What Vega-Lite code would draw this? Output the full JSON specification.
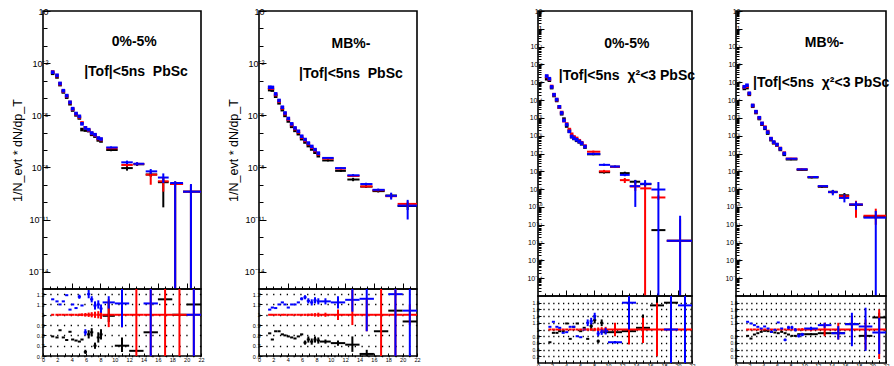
{
"$schema": "https://vega.github.io/schema/vega-lite/v6.json",
"padding": {"left": 10, "top": 6, "right": 0, "bottom": 0},
"background": "white",
"config": {
  "view": {"stroke": "black", "strokeWidth": 1.6},
  "axis": {"labelFont": "Liberation Sans", "titleFont": "Liberation Sans", "labelColor": "black", "titleColor": "black", "tickColor": "black", "domain": false, "grid": false, "labelOverlap": false, "labelFlush": false, "titleFontWeight": "normal", "tickWidth": 1}
},
"datasets": {"d": [
{"p":1,"t":"L","x":12.7,"y":0.16,"txt":"0%-5%"},
{"p":1,"t":"L","x":12.95,"y":3.2e-3,"txt":"|Tof|<5ns \u00a0PbSc"},
{"p":2,"t":"L","x":12.8,"y":0.13,"txt":"MB%-"},
{"p":2,"t":"L","x":12.8,"y":2.4e-3,"txt":"|Tof|<5ns \u00a0PbSc"},
{"p":3,"t":"L","x":12.7,"y":0.14,"txt":"0%-5%"},
{"p":3,"t":"L","x":12.7,"y":2.2e-3,"txt":"|Tof|<5ns \u00a0χ²<3 PbSc"},
{"p":4,"t":"L","x":12.95,"y":0.17,"txt":"MB%-"},
{"p":4,"t":"L","x":12.5,"y":9.5e-4,"txt":"|Tof|<5ns \u00a0χ²<3 PbSc"},

{"p":1,"t":"T","s":"k","x":1.35,"y":2.6e-3},{"p":1,"t":"T","s":"k","x":1.95,"y":1.6e-3},{"p":1,"t":"T","s":"k","x":2.37,"y":5.8e-4},{"p":1,"t":"T","s":"k","x":2.83,"y":2.2e-4},{"p":1,"t":"T","s":"k","x":3.3,"y":1.1e-4},{"p":1,"t":"T","s":"k","x":3.76,"y":4.6e-5},{"p":1,"t":"T","s":"k","x":4.13,"y":2.0e-5},{"p":1,"t":"T","s":"k","x":4.6,"y":1.05e-5},{"p":1,"t":"T","s":"k","x":5.06,"y":7.0e-6},{"p":1,"t":"T","s":"k","x":5.43,"y":1.5e-6},{"p":1,"t":"T","s":"k","x":5.9,"y":1.4e-6},{"p":1,"t":"T","s":"k","x":6.36,"y":1.3e-6},{"p":1,"t":"T","s":"k","x":6.78,"y":8.0e-7},{"p":1,"t":"T","s":"k","x":7.24,"y":6.3e-7},{"p":1,"t":"T","s":"k","x":7.7,"y":3.8e-7},{"p":1,"t":"T","s":"k","x":8.08,"y":3.3e-7},
{"p":1,"t":"T","s":"k","x":9.47,"xl":8.8,"xh":10.4,"y":1.0e-7,"yl":8.5e-8,"yh":1.15e-7},
{"p":1,"t":"T","s":"k","x":11.7,"xl":10.9,"xh":12.5,"y":9.1e-9,"yl":6.5e-9,"yh":1.25e-8},
{"p":1,"t":"T","s":"k","x":13.1,"xl":12.6,"xh":14.1,"y":1.5e-8,"yl":1.2e-8,"yh":1.8e-8},
{"p":1,"t":"T","s":"k","x":15.0,"xl":14.3,"xh":15.9,"y":3.9e-9,"yl":2.8e-9,"yh":5.2e-9},
{"p":1,"t":"T","s":"k","x":16.75,"xl":16.0,"xh":17.5,"y":1.4e-9,"yl":5e-11,"yh":2.5e-9},
{"p":1,"t":"T","s":"k","x":18.4,"xl":17.7,"xh":19.5,"y":1.1e-9,"yl":1e-15,"yh":1.5e-9},
{"p":1,"t":"T","s":"k","x":20.6,"xl":19.5,"xh":22,"y":4.0e-10,"yl":1e-15,"yh":1.0e-9},
{"p":1,"t":"T","s":"r","x":1.35,"y":3.1e-3},{"p":1,"t":"T","s":"r","x":1.95,"y":1.9e-3},{"p":1,"t":"T","s":"r","x":2.37,"y":6.5e-4},{"p":1,"t":"T","s":"r","x":2.83,"y":2.5e-4},{"p":1,"t":"T","s":"r","x":3.3,"y":1.3e-4},{"p":1,"t":"T","s":"r","x":3.76,"y":5.4e-5},{"p":1,"t":"T","s":"r","x":4.13,"y":2.3e-5},{"p":1,"t":"T","s":"r","x":4.6,"y":1.2e-5},{"p":1,"t":"T","s":"r","x":5.06,"y":8.0e-6},{"p":1,"t":"T","s":"r","x":5.43,"y":3.6e-6},{"p":1,"t":"T","s":"r","x":5.9,"y":1.9e-6},{"p":1,"t":"T","s":"r","x":6.36,"y":1.4e-6},{"p":1,"t":"T","s":"r","x":6.78,"y":9.0e-7},{"p":1,"t":"T","s":"r","x":7.24,"y":7.2e-7},{"p":1,"t":"T","s":"r","x":7.7,"y":4.6e-7},{"p":1,"t":"T","s":"r","x":8.08,"y":4.0e-7},
{"p":1,"t":"T","s":"r","x":9.47,"xl":8.8,"xh":10.4,"y":1.26e-7,"yl":1.1e-7,"yh":1.45e-7},
{"p":1,"t":"T","s":"r","x":11.7,"xl":10.9,"xh":12.5,"y":1.38e-8,"yl":1.1e-8,"yh":1.75e-8},
{"p":1,"t":"T","s":"r","x":13.1,"xl":12.6,"xh":14.1,"y":1.58e-8,"yl":1.3e-8,"yh":1.9e-8},
{"p":1,"t":"T","s":"r","x":15.0,"xl":14.3,"xh":15.9,"y":3.8e-9,"yl":1.0e-9,"yh":5.5e-9},
{"p":1,"t":"T","s":"r","x":16.75,"xl":16.0,"xh":17.5,"y":1.58e-9,"yl":4.0e-10,"yh":2.5e-9},
{"p":1,"t":"T","s":"r","x":18.4,"xl":17.7,"xh":19.5,"y":1.1e-9,"yl":1e-15,"yh":1.5e-9},
{"p":1,"t":"T","s":"r","x":20.6,"xl":19.5,"xh":22,"y":4.0e-10,"yl":1e-15,"yh":1.0e-9},
{"p":1,"t":"T","s":"b","x":1.35,"y":3.0e-3},{"p":1,"t":"T","s":"b","x":1.95,"y":2.0e-3},{"p":1,"t":"T","s":"b","x":2.37,"y":6.8e-4},{"p":1,"t":"T","s":"b","x":2.83,"y":2.6e-4},{"p":1,"t":"T","s":"b","x":3.3,"y":1.35e-4},{"p":1,"t":"T","s":"b","x":3.76,"y":5.6e-5},{"p":1,"t":"T","s":"b","x":4.13,"y":2.4e-5},{"p":1,"t":"T","s":"b","x":4.6,"y":1.26e-5},{"p":1,"t":"T","s":"b","x":5.06,"y":8.7e-6},{"p":1,"t":"T","s":"b","x":5.43,"y":3.2e-6},{"p":1,"t":"T","s":"b","x":5.9,"y":1.86e-6},{"p":1,"t":"T","s":"b","x":6.36,"y":1.48e-6},{"p":1,"t":"T","s":"b","x":6.78,"y":9.5e-7},{"p":1,"t":"T","s":"b","x":7.24,"y":7.6e-7},{"p":1,"t":"T","s":"b","x":7.7,"y":4.9e-7},{"p":1,"t":"T","s":"b","x":8.08,"y":4.3e-7},
{"p":1,"t":"T","s":"b","x":9.47,"xl":8.8,"xh":10.4,"y":1.4e-7,"yl":1.2e-7,"yh":1.6e-7},
{"p":1,"t":"T","s":"b","x":11.7,"xl":10.9,"xh":12.5,"y":1.95e-8,"yl":1.55e-8,"yh":2.45e-8},
{"p":1,"t":"T","s":"b","x":13.1,"xl":12.6,"xh":14.1,"y":1.62e-8,"yl":1.3e-8,"yh":2.0e-8},
{"p":1,"t":"T","s":"b","x":15.0,"xl":14.3,"xh":15.9,"y":5.9e-9,"yl":4.2e-9,"yh":8.0e-9},
{"p":1,"t":"T","s":"b","x":16.75,"xl":16.0,"xh":17.5,"y":2.6e-9,"yl":1.26e-9,"yh":4.5e-9},
{"p":1,"t":"T","s":"b","x":18.4,"xl":17.7,"xh":19.5,"y":1.26e-9,"yl":1e-15,"yh":1.6e-9},
{"p":1,"t":"T","s":"b","x":20.6,"xl":19.5,"xh":22,"y":4.0e-10,"yl":1e-15,"yh":1.1e-9},

{"p":1,"t":"R","s":"k","x":1.35,"xl":1.13,"xh":1.57,"y":0.79},{"p":1,"t":"R","s":"k","x":1.95,"xl":1.73,"xh":2.17,"y":0.78},{"p":1,"t":"R","s":"k","x":2.37,"xl":2.15,"xh":2.59,"y":0.85},{"p":1,"t":"R","s":"k","x":2.83,"xl":2.61,"xh":3.05,"y":0.78},{"p":1,"t":"R","s":"k","x":3.3,"xl":3.08,"xh":3.52,"y":0.755},{"p":1,"t":"R","s":"k","x":3.76,"xl":3.54,"xh":3.98,"y":0.835},{"p":1,"t":"R","s":"k","x":4.13,"xl":3.91,"xh":4.35,"y":0.76},{"p":1,"t":"R","s":"k","x":4.6,"xl":4.38,"xh":4.82,"y":0.75},{"p":1,"t":"R","s":"k","x":5.06,"xl":4.84,"xh":5.28,"y":0.74},{"p":1,"t":"R","s":"k","x":5.43,"xl":5.21,"xh":5.65,"y":0.76},
{"p":1,"t":"R","s":"k","x":5.9,"xl":5.68,"xh":6.12,"y":0.64,"yl":0.62,"yh":0.66},{"p":1,"t":"R","s":"k","x":6.36,"xl":6.14,"xh":6.58,"y":0.81,"yl":0.77,"yh":0.85},{"p":1,"t":"R","s":"k","x":6.78,"xl":6.56,"xh":7.0,"y":0.83,"yl":0.79,"yh":0.87},{"p":1,"t":"R","s":"k","x":7.24,"xl":7.02,"xh":7.46,"y":0.70,"yl":0.67,"yh":0.73},{"p":1,"t":"R","s":"k","x":7.7,"xl":7.48,"xh":7.92,"y":0.78,"yl":0.73,"yh":0.83},{"p":1,"t":"R","s":"k","x":8.08,"xl":7.86,"xh":8.3,"y":0.81,"yl":0.76,"yh":0.86},
{"p":1,"t":"R","s":"k","x":9.15,"xl":8.3,"xh":10,"y":0.99,"yl":0.93,"yh":1.12},{"p":1,"t":"R","s":"k","x":11,"xl":10,"xh":12,"y":0.70,"yl":0.64,"yh":0.78},{"p":1,"t":"R","s":"k","x":13,"xl":12,"xh":14,"y":0.65},{"p":1,"t":"R","s":"k","x":15,"xl":14,"xh":16,"y":0.83},{"p":1,"t":"R","s":"k","x":17,"xl":16,"xh":18,"y":1.15},{"p":1,"t":"R","s":"k","x":19,"xl":18,"xh":20,"y":1.0},{"p":1,"t":"R","s":"k","x":21,"xl":20,"xh":22,"y":1.1},
{"p":1,"t":"R","s":"r","x":1.35,"xl":1.13,"xh":1.57,"y":1},{"p":1,"t":"R","s":"r","x":1.95,"xl":1.73,"xh":2.17,"y":1},{"p":1,"t":"R","s":"r","x":2.37,"xl":2.15,"xh":2.59,"y":1},{"p":1,"t":"R","s":"r","x":2.83,"xl":2.61,"xh":3.05,"y":1},{"p":1,"t":"R","s":"r","x":3.3,"xl":3.08,"xh":3.52,"y":1},{"p":1,"t":"R","s":"r","x":3.76,"xl":3.54,"xh":3.98,"y":1},
{"p":1,"t":"R","s":"r","x":4.13,"xl":3.91,"xh":4.35,"y":1,"yl":0.996,"yh":1.004},{"p":1,"t":"R","s":"r","x":4.6,"xl":4.38,"xh":4.82,"y":1,"yl":0.993,"yh":1.007},{"p":1,"t":"R","s":"r","x":5.06,"xl":4.84,"xh":5.28,"y":1,"yl":0.99,"yh":1.01},{"p":1,"t":"R","s":"r","x":5.43,"xl":5.21,"xh":5.65,"y":1,"yl":0.987,"yh":1.013},{"p":1,"t":"R","s":"r","x":5.9,"xl":5.68,"xh":6.12,"y":1,"yl":0.983,"yh":1.017},{"p":1,"t":"R","s":"r","x":6.36,"xl":6.14,"xh":6.58,"y":1,"yl":0.979,"yh":1.021},{"p":1,"t":"R","s":"r","x":6.78,"xl":6.56,"xh":7.0,"y":1,"yl":0.975,"yh":1.025},{"p":1,"t":"R","s":"r","x":7.24,"xl":7.02,"xh":7.46,"y":1,"yl":0.97,"yh":1.03},{"p":1,"t":"R","s":"r","x":7.7,"xl":7.48,"xh":7.92,"y":1,"yl":0.965,"yh":1.035},{"p":1,"t":"R","s":"r","x":8.08,"xl":7.86,"xh":8.3,"y":1,"yl":0.96,"yh":1.04},
{"p":1,"t":"R","s":"r","x":9.15,"xl":8.3,"xh":10,"y":1,"yl":0.88,"yh":1.15},{"p":1,"t":"R","s":"r","x":11,"xl":10,"xh":12,"y":1,"yl":0.88,"yh":1.12},{"p":1,"t":"R","s":"r","x":13,"xl":12,"xh":14,"y":1,"yl":0.5,"yh":1.3},{"p":1,"t":"R","s":"r","x":15,"xl":14,"xh":16,"y":1,"yl":0.5,"yh":1.3},{"p":1,"t":"R","s":"r","x":17,"xl":16,"xh":18,"y":1,"yl":0.5,"yh":1.3},{"p":1,"t":"R","s":"r","x":19,"xl":18,"xh":20,"y":1,"yl":0.5,"yh":1.3},{"p":1,"t":"R","s":"r","x":21,"xl":20,"xh":22,"y":1,"yl":0.5,"yh":1.3},
{"p":1,"t":"R","s":"b","x":1.35,"xl":1.13,"xh":1.57,"y":1.15},{"p":1,"t":"R","s":"b","x":1.95,"xl":1.73,"xh":2.17,"y":1.13},{"p":1,"t":"R","s":"b","x":2.37,"xl":2.15,"xh":2.59,"y":1.10},{"p":1,"t":"R","s":"b","x":2.83,"xl":2.61,"xh":3.05,"y":1.13},{"p":1,"t":"R","s":"b","x":3.3,"xl":3.08,"xh":3.52,"y":1.19},{"p":1,"t":"R","s":"b","x":3.76,"xl":3.54,"xh":3.98,"y":1.05},{"p":1,"t":"R","s":"b","x":4.13,"xl":3.91,"xh":4.35,"y":1.10},{"p":1,"t":"R","s":"b","x":4.6,"xl":4.38,"xh":4.82,"y":1.065},
{"p":1,"t":"R","s":"b","x":5.06,"xl":4.84,"xh":5.28,"y":1.175,"yl":1.155,"yh":1.195},{"p":1,"t":"R","s":"b","x":5.43,"xl":5.21,"xh":5.65,"y":1.09},{"p":1,"t":"R","s":"b","x":5.9,"xl":5.68,"xh":6.12,"y":0.83,"yl":0.8,"yh":0.86},{"p":1,"t":"R","s":"b","x":6.36,"xl":6.14,"xh":6.58,"y":1.2,"yl":1.16,"yh":1.24},{"p":1,"t":"R","s":"b","x":6.78,"xl":6.56,"xh":7.0,"y":1.15,"yl":1.12,"yh":1.18},{"p":1,"t":"R","s":"b","x":7.24,"xl":7.02,"xh":7.46,"y":1.09,"yl":1.05,"yh":1.13},{"p":1,"t":"R","s":"b","x":7.7,"xl":7.48,"xh":7.92,"y":1.1,"yl":1.06,"yh":1.14},{"p":1,"t":"R","s":"b","x":8.08,"xl":7.86,"xh":8.3,"y":1.06,"yl":1.02,"yh":1.1},
{"p":1,"t":"R","s":"b","x":9.15,"xl":8.3,"xh":10,"y":1.12,"yl":1.06,"yh":1.18},{"p":1,"t":"R","s":"b","x":11,"xl":10,"xh":12,"y":1.11,"yl":0.88,"yh":1.3},{"p":1,"t":"R","s":"b","x":15,"xl":14,"xh":16,"y":1.11,"yl":0.6,"yh":1.3},{"p":1,"t":"R","s":"b","x":21,"xl":20,"xh":22,"y":1.0,"yl":0.5,"yh":1.3},

{"p":2,"t":"T","s":"k","x":1.49,"y":3.0e-4},{"p":2,"t":"T","s":"k","x":1.86,"y":2.8e-4},{"p":2,"t":"T","s":"k","x":2.32,"y":1.25e-4},{"p":2,"t":"T","s":"k","x":2.79,"y":5.2e-5},{"p":2,"t":"T","s":"k","x":3.25,"y":2.1e-5},{"p":2,"t":"T","s":"k","x":3.62,"y":9.8e-6},{"p":2,"t":"T","s":"k","x":4.08,"y":4.7e-6},{"p":2,"t":"T","s":"k","x":4.55,"y":2.3e-6},{"p":2,"t":"T","s":"k","x":5.01,"y":1.35e-6},{"p":2,"t":"T","s":"k","x":5.48,"y":8.7e-7},{"p":2,"t":"T","s":"k","x":5.94,"y":4.5e-7},{"p":2,"t":"T","s":"k","x":6.41,"y":2.9e-7},{"p":2,"t":"T","s":"k","x":6.87,"y":1.8e-7},{"p":2,"t":"T","s":"k","x":7.34,"y":1.15e-7},{"p":2,"t":"T","s":"k","x":7.8,"y":7.5e-8},{"p":2,"t":"T","s":"k","x":8.26,"y":4.7e-8},
{"p":2,"t":"T","s":"k","x":9.6,"xl":8.8,"xh":10.4,"y":2.5e-8,"yl":2.2e-8,"yh":2.8e-8},
{"p":2,"t":"T","s":"k","x":11.4,"xl":10.6,"xh":12.1,"y":6.3e-9,"yl":5.5e-9,"yh":7.2e-9},
{"p":2,"t":"T","s":"k","x":13.1,"xl":12.3,"xh":14.0,"y":2.0e-9,"yl":1.6e-9,"yh":2.5e-9},
{"p":2,"t":"T","s":"k","x":14.9,"xl":14.1,"xh":15.8,"y":7.8e-10,"yl":6.5e-10,"yh":9.2e-10},
{"p":2,"t":"T","s":"k","x":16.6,"xl":15.8,"xh":17.5,"y":4.3e-10,"yl":3.6e-10,"yh":5.1e-10},
{"p":2,"t":"T","s":"k","x":18.4,"xl":17.6,"xh":19.2,"y":2.4e-10,"yl":1.8e-10,"yh":3.1e-10},
{"p":2,"t":"T","s":"k","x":20.7,"xl":19.3,"xh":22,"y":6.0e-11,"yl":3.5e-11,"yh":9.0e-11},
{"p":2,"t":"T","s":"r","x":1.49,"y":3.75e-4},{"p":2,"t":"T","s":"r","x":1.86,"y":3.6e-4},{"p":2,"t":"T","s":"r","x":2.32,"y":1.55e-4},{"p":2,"t":"T","s":"r","x":2.79,"y":6.5e-5},{"p":2,"t":"T","s":"r","x":3.25,"y":2.65e-5},{"p":2,"t":"T","s":"r","x":3.62,"y":1.23e-5},{"p":2,"t":"T","s":"r","x":4.08,"y":5.9e-6},{"p":2,"t":"T","s":"r","x":4.55,"y":2.9e-6},{"p":2,"t":"T","s":"r","x":5.01,"y":1.7e-6},{"p":2,"t":"T","s":"r","x":5.48,"y":1.1e-6},{"p":2,"t":"T","s":"r","x":5.94,"y":5.6e-7},{"p":2,"t":"T","s":"r","x":6.41,"y":3.6e-7},{"p":2,"t":"T","s":"r","x":6.87,"y":2.3e-7},{"p":2,"t":"T","s":"r","x":7.34,"y":1.45e-7},{"p":2,"t":"T","s":"r","x":7.8,"y":9.5e-8},{"p":2,"t":"T","s":"r","x":8.26,"y":6.0e-8},
{"p":2,"t":"T","s":"r","x":9.6,"xl":8.8,"xh":10.4,"y":3.2e-8,"yl":2.9e-8,"yh":3.5e-8},
{"p":2,"t":"T","s":"r","x":11.4,"xl":10.6,"xh":12.1,"y":8.5e-9,"yl":7.6e-9,"yh":9.5e-9},
{"p":2,"t":"T","s":"r","x":13.1,"xl":12.3,"xh":14.0,"y":3.2e-9,"yl":2.8e-9,"yh":3.7e-9},
{"p":2,"t":"T","s":"r","x":14.9,"xl":14.1,"xh":15.8,"y":8.0e-10,"yl":6.8e-10,"yh":9.4e-10},
{"p":2,"t":"T","s":"r","x":16.6,"xl":15.8,"xh":17.5,"y":4.8e-10,"yl":4.1e-10,"yh":5.6e-10},
{"p":2,"t":"T","s":"r","x":18.4,"xl":17.6,"xh":19.2,"y":2.2e-10,"yl":1.6e-10,"yh":2.9e-10},
{"p":2,"t":"T","s":"r","x":20.7,"xl":19.3,"xh":22,"y":7.9e-11,"yl":5.0e-11,"yh":1.1e-10},
{"p":2,"t":"T","s":"b","x":1.49,"y":4.1e-4},{"p":2,"t":"T","s":"b","x":1.86,"y":4.0e-4},{"p":2,"t":"T","s":"b","x":2.32,"y":1.7e-4},{"p":2,"t":"T","s":"b","x":2.79,"y":7.1e-5},{"p":2,"t":"T","s":"b","x":3.25,"y":2.9e-5},{"p":2,"t":"T","s":"b","x":3.62,"y":1.35e-5},{"p":2,"t":"T","s":"b","x":4.08,"y":6.5e-6},{"p":2,"t":"T","s":"b","x":4.55,"y":3.2e-6},{"p":2,"t":"T","s":"b","x":5.01,"y":1.86e-6},{"p":2,"t":"T","s":"b","x":5.48,"y":1.2e-6},{"p":2,"t":"T","s":"b","x":5.94,"y":6.2e-7},{"p":2,"t":"T","s":"b","x":6.41,"y":4.0e-7},{"p":2,"t":"T","s":"b","x":6.87,"y":2.5e-7},{"p":2,"t":"T","s":"b","x":7.34,"y":1.6e-7},{"p":2,"t":"T","s":"b","x":7.8,"y":1.05e-7},{"p":2,"t":"T","s":"b","x":8.26,"y":6.6e-8},
{"p":2,"t":"T","s":"b","x":9.6,"xl":8.8,"xh":10.4,"y":3.5e-8,"yl":3.1e-8,"yh":3.9e-8},
{"p":2,"t":"T","s":"b","x":11.4,"xl":10.6,"xh":12.1,"y":9.1e-9,"yl":8.1e-9,"yh":1.02e-8},
{"p":2,"t":"T","s":"b","x":13.1,"xl":12.3,"xh":14.0,"y":3.5e-9,"yl":3.0e-9,"yh":4.1e-9},
{"p":2,"t":"T","s":"b","x":14.9,"xl":14.1,"xh":15.8,"y":1.1e-9,"yl":9.3e-10,"yh":1.3e-9},
{"p":2,"t":"T","s":"b","x":16.6,"xl":15.8,"xh":17.5,"y":5.1e-10,"yl":4.3e-10,"yh":6.0e-10},
{"p":2,"t":"T","s":"b","x":18.4,"xl":17.6,"xh":19.2,"y":2.3e-10,"yl":1.4e-10,"yh":3.5e-10},
{"p":2,"t":"T","s":"b","x":20.7,"xl":19.3,"xh":22,"y":6.3e-11,"yl":1.0e-11,"yh":1.35e-10},

{"p":2,"t":"R","s":"k","x":1.49,"xl":1.27,"xh":1.71,"y":0.82},{"p":2,"t":"R","s":"k","x":1.86,"xl":1.64,"xh":2.08,"y":0.76},{"p":2,"t":"R","s":"k","x":2.32,"xl":2.1,"xh":2.54,"y":0.84},{"p":2,"t":"R","s":"k","x":2.79,"xl":2.57,"xh":3.01,"y":0.84},{"p":2,"t":"R","s":"k","x":3.25,"xl":3.03,"xh":3.47,"y":0.81},{"p":2,"t":"R","s":"k","x":3.62,"xl":3.4,"xh":3.84,"y":0.80},{"p":2,"t":"R","s":"k","x":4.08,"xl":3.86,"xh":4.3,"y":0.79},{"p":2,"t":"R","s":"k","x":4.55,"xl":4.33,"xh":4.77,"y":0.78},{"p":2,"t":"R","s":"k","x":5.01,"xl":4.79,"xh":5.23,"y":0.77},{"p":2,"t":"R","s":"k","x":5.48,"xl":5.26,"xh":5.7,"y":0.79},{"p":2,"t":"R","s":"k","x":5.94,"xl":5.72,"xh":6.16,"y":0.81},
{"p":2,"t":"R","s":"k","x":6.41,"xl":6.19,"xh":6.63,"y":0.73,"yl":0.71,"yh":0.75},{"p":2,"t":"R","s":"k","x":6.87,"xl":6.65,"xh":7.09,"y":0.76,"yl":0.73,"yh":0.79},{"p":2,"t":"R","s":"k","x":7.34,"xl":7.12,"xh":7.56,"y":0.74,"yl":0.71,"yh":0.77},{"p":2,"t":"R","s":"k","x":7.8,"xl":7.58,"xh":8.02,"y":0.76,"yl":0.73,"yh":0.79},{"p":2,"t":"R","s":"k","x":8.26,"xl":8.04,"xh":8.48,"y":0.75,"yl":0.72,"yh":0.78},
{"p":2,"t":"R","s":"k","x":9.25,"xl":8.48,"xh":10,"y":0.74,"yl":0.72,"yh":0.76},{"p":2,"t":"R","s":"k","x":11,"xl":10,"xh":12,"y":0.725,"yl":0.70,"yh":0.75},{"p":2,"t":"R","s":"k","x":13,"xl":12,"xh":14,"y":0.71,"yl":0.64,"yh":0.79},{"p":2,"t":"R","s":"k","x":15,"xl":14,"xh":16,"y":0.62,"yl":0.5,"yh":0.66},{"p":2,"t":"R","s":"k","x":17,"xl":16,"xh":18,"y":0.84},{"p":2,"t":"R","s":"k","x":19,"xl":18,"xh":20,"y":1.04},{"p":2,"t":"R","s":"k","x":21,"xl":20,"xh":22,"y":0.935},
{"p":2,"t":"R","s":"r","x":1.49,"xl":1.27,"xh":1.71,"y":1},{"p":2,"t":"R","s":"r","x":1.86,"xl":1.64,"xh":2.08,"y":1},{"p":2,"t":"R","s":"r","x":2.32,"xl":2.1,"xh":2.54,"y":1},{"p":2,"t":"R","s":"r","x":2.79,"xl":2.57,"xh":3.01,"y":1},{"p":2,"t":"R","s":"r","x":3.25,"xl":3.03,"xh":3.47,"y":1},{"p":2,"t":"R","s":"r","x":3.62,"xl":3.4,"xh":3.84,"y":1},{"p":2,"t":"R","s":"r","x":4.08,"xl":3.86,"xh":4.3,"y":1},{"p":2,"t":"R","s":"r","x":4.55,"xl":4.33,"xh":4.77,"y":1},{"p":2,"t":"R","s":"r","x":5.01,"xl":4.79,"xh":5.23,"y":1},{"p":2,"t":"R","s":"r","x":5.48,"xl":5.26,"xh":5.7,"y":1},
{"p":2,"t":"R","s":"r","x":5.94,"xl":5.72,"xh":6.16,"y":1,"yl":0.995,"yh":1.005},{"p":2,"t":"R","s":"r","x":6.41,"xl":6.19,"xh":6.63,"y":1,"yl":0.992,"yh":1.008},{"p":2,"t":"R","s":"r","x":6.87,"xl":6.65,"xh":7.09,"y":1,"yl":0.99,"yh":1.01},{"p":2,"t":"R","s":"r","x":7.34,"xl":7.12,"xh":7.56,"y":1,"yl":0.987,"yh":1.013},{"p":2,"t":"R","s":"r","x":7.8,"xl":7.58,"xh":8.02,"y":1,"yl":0.984,"yh":1.016},{"p":2,"t":"R","s":"r","x":8.26,"xl":8.04,"xh":8.48,"y":1,"yl":0.98,"yh":1.02},
{"p":2,"t":"R","s":"r","x":9.25,"xl":8.48,"xh":10,"y":1,"yl":0.98,"yh":1.02},{"p":2,"t":"R","s":"r","x":11,"xl":10,"xh":12,"y":1,"yl":0.95,"yh":1.05},{"p":2,"t":"R","s":"r","x":13,"xl":12,"xh":14,"y":1,"yl":0.9,"yh":1.24},{"p":2,"t":"R","s":"r","x":15,"xl":14,"xh":16,"y":1,"yl":0.84,"yh":1.16},{"p":2,"t":"R","s":"r","x":17,"xl":16,"xh":18,"y":1,"yl":0.5,"yh":1.3},{"p":2,"t":"R","s":"r","x":19,"xl":18,"xh":20,"y":1,"yl":0.5,"yh":1.3},{"p":2,"t":"R","s":"r","x":21,"xl":20,"xh":22,"y":1,"yl":0.9,"yh":1.1},
{"p":2,"t":"R","s":"b","x":1.49,"xl":1.27,"xh":1.71,"y":1.05},{"p":2,"t":"R","s":"b","x":1.86,"xl":1.64,"xh":2.08,"y":1.07},{"p":2,"t":"R","s":"b","x":2.32,"xl":2.1,"xh":2.54,"y":1.065},{"p":2,"t":"R","s":"b","x":2.79,"xl":2.57,"xh":3.01,"y":1.10},{"p":2,"t":"R","s":"b","x":3.25,"xl":3.03,"xh":3.47,"y":1.12},{"p":2,"t":"R","s":"b","x":3.62,"xl":3.4,"xh":3.84,"y":1.10},{"p":2,"t":"R","s":"b","x":4.08,"xl":3.86,"xh":4.3,"y":1.07},{"p":2,"t":"R","s":"b","x":4.55,"xl":4.33,"xh":4.77,"y":1.10},{"p":2,"t":"R","s":"b","x":5.01,"xl":4.79,"xh":5.23,"y":1.10},{"p":2,"t":"R","s":"b","x":5.48,"xl":5.26,"xh":5.7,"y":1.12},
{"p":2,"t":"R","s":"b","x":5.94,"xl":5.72,"xh":6.16,"y":1.155,"yl":1.14,"yh":1.17},{"p":2,"t":"R","s":"b","x":6.41,"xl":6.19,"xh":6.63,"y":1.17,"yl":1.15,"yh":1.19},{"p":2,"t":"R","s":"b","x":6.87,"xl":6.65,"xh":7.09,"y":1.135,"yl":1.11,"yh":1.16},{"p":2,"t":"R","s":"b","x":7.34,"xl":7.12,"xh":7.56,"y":1.12,"yl":1.09,"yh":1.15},{"p":2,"t":"R","s":"b","x":7.8,"xl":7.58,"xh":8.02,"y":1.14,"yl":1.11,"yh":1.17},{"p":2,"t":"R","s":"b","x":8.26,"xl":8.04,"xh":8.48,"y":1.13,"yl":1.1,"yh":1.16},
{"p":2,"t":"R","s":"b","x":9.25,"xl":8.48,"xh":10,"y":1.13,"yl":1.1,"yh":1.16},{"p":2,"t":"R","s":"b","x":11,"xl":10,"xh":12,"y":1.12,"yl":1.06,"yh":1.18},{"p":2,"t":"R","s":"b","x":13,"xl":12,"xh":14,"y":1.145,"yl":1.03,"yh":1.3},{"p":2,"t":"R","s":"b","x":15,"xl":14,"xh":16,"y":1.155,"yl":0.84,"yh":1.3},{"p":2,"t":"R","s":"b","x":19,"xl":18,"xh":20,"y":1.2,"yl":0.5,"yh":1.3},{"p":2,"t":"R","s":"b","x":21,"xl":20,"xh":22,"y":1.04,"yl":0.5,"yh":1.3},

{"p":3,"t":"T","s":"k","x":1.24,"y":1.58e-3},{"p":3,"t":"T","s":"k","x":1.62,"y":1.3e-3},{"p":3,"t":"T","s":"k","x":1.95,"y":5.0e-4},{"p":3,"t":"T","s":"k","x":2.29,"y":1.8e-4},{"p":3,"t":"T","s":"k","x":2.67,"y":9.5e-5},{"p":3,"t":"T","s":"k","x":3.05,"y":4.0e-5},{"p":3,"t":"T","s":"k","x":3.38,"y":1.7e-5},{"p":3,"t":"T","s":"k","x":3.71,"y":8.5e-6},{"p":3,"t":"T","s":"k","x":4.1,"y":3.5e-6},{"p":3,"t":"T","s":"k","x":4.48,"y":1.8e-6},{"p":3,"t":"T","s":"k","x":4.81,"y":8.8e-7},{"p":3,"t":"T","s":"k","x":5.14,"y":7.0e-7},{"p":3,"t":"T","s":"k","x":5.52,"y":5.5e-7},{"p":3,"t":"T","s":"k","x":5.9,"y":4.5e-7},{"p":3,"t":"T","s":"k","x":6.24,"y":3.5e-7},{"p":3,"t":"T","s":"k","x":6.71,"y":2.3e-7},
{"p":3,"t":"T","s":"k","x":7.9,"xl":7.0,"xh":8.9,"y":9.0e-8,"yl":8.0e-8,"yh":1.0e-7},
{"p":3,"t":"T","s":"k","x":9.43,"xl":8.7,"xh":10.3,"y":8.9e-9,"yl":7.5e-9,"yh":1.05e-8},
{"p":3,"t":"T","s":"k","x":11.0,"xl":10.3,"xh":11.7,"y":1.8e-8,"yl":1.6e-8,"yh":2.0e-8},
{"p":3,"t":"T","s":"k","x":12.4,"xl":11.7,"xh":13.1,"y":7.9e-9,"yl":6.5e-9,"yh":9.5e-9},
{"p":3,"t":"T","s":"k","x":13.9,"xl":13.1,"xh":14.6,"y":2.6e-9,"yl":2.0e-9,"yh":3.3e-9},
{"p":3,"t":"T","s":"k","x":15.3,"xl":14.6,"xh":16.2,"y":1.9e-9,"yl":1.5e-9,"yh":2.4e-9},
{"p":3,"t":"T","s":"k","x":17.2,"xl":16.2,"xh":18.2,"y":5.0e-12},
{"p":3,"t":"T","s":"k","x":20.3,"xl":18.4,"xh":22,"y":1.26e-12},
{"p":3,"t":"T","s":"r","x":1.24,"y":2.1e-3},{"p":3,"t":"T","s":"r","x":1.62,"y":1.5e-3},{"p":3,"t":"T","s":"r","x":1.95,"y":5.8e-4},{"p":3,"t":"T","s":"r","x":2.29,"y":2.0e-4},{"p":3,"t":"T","s":"r","x":2.67,"y":1.05e-4},{"p":3,"t":"T","s":"r","x":3.05,"y":4.0e-5},{"p":3,"t":"T","s":"r","x":3.38,"y":2.0e-5},{"p":3,"t":"T","s":"r","x":3.71,"y":7.0e-6},{"p":3,"t":"T","s":"r","x":4.1,"y":4.5e-6},{"p":3,"t":"T","s":"r","x":4.48,"y":2.2e-6},{"p":3,"t":"T","s":"r","x":4.81,"y":1.2e-6},{"p":3,"t":"T","s":"r","x":5.14,"y":8.5e-7},{"p":3,"t":"T","s":"r","x":5.52,"y":7.0e-7},{"p":3,"t":"T","s":"r","x":5.9,"y":5.2e-7},{"p":3,"t":"T","s":"r","x":6.24,"y":4.0e-7},{"p":3,"t":"T","s":"r","x":6.71,"y":2.6e-7},
{"p":3,"t":"T","s":"r","x":7.9,"xl":7.0,"xh":8.9,"y":1.26e-7,"yl":1.1e-7,"yh":1.45e-7},
{"p":3,"t":"T","s":"r","x":9.43,"xl":8.7,"xh":10.3,"y":1.0e-8,"yl":8.5e-9,"yh":1.2e-8},
{"p":3,"t":"T","s":"r","x":11.0,"xl":10.3,"xh":11.7,"y":1.8e-8,"yl":1.55e-8,"yh":2.05e-8},
{"p":3,"t":"T","s":"r","x":12.4,"xl":11.7,"xh":13.1,"y":3.2e-9,"yl":2.2e-9,"yh":4.2e-9},
{"p":3,"t":"T","s":"r","x":13.9,"xl":13.1,"xh":14.6,"y":1.4e-9,"yl":8e-10,"yh":2.2e-9},
{"p":3,"t":"T","s":"r","x":15.3,"xl":14.6,"xh":16.2,"y":1.1e-9,"yl":1e-15,"yh":1.6e-9},
{"p":3,"t":"T","s":"r","x":17.2,"xl":16.2,"xh":18.2,"y":3.4e-10,"yl":2.5e-10,"yh":4.5e-10},
{"p":3,"t":"T","s":"r","x":20.3,"xl":18.4,"xh":22,"y":1.26e-12,"yl":1e-15,"yh":2e-11},
{"p":3,"t":"T","s":"b","x":1.24,"y":2.24e-3},{"p":3,"t":"T","s":"b","x":1.62,"y":1.58e-3},{"p":3,"t":"T","s":"b","x":1.95,"y":5.5e-4},{"p":3,"t":"T","s":"b","x":2.29,"y":2.0e-4},{"p":3,"t":"T","s":"b","x":2.67,"y":1.07e-4},{"p":3,"t":"T","s":"b","x":3.05,"y":4.2e-5},{"p":3,"t":"T","s":"b","x":3.38,"y":1.9e-5},{"p":3,"t":"T","s":"b","x":3.71,"y":7.2e-6},{"p":3,"t":"T","s":"b","x":4.1,"y":4.2e-6},{"p":3,"t":"T","s":"b","x":4.48,"y":1.74e-6},{"p":3,"t":"T","s":"b","x":4.81,"y":9.1e-7},{"p":3,"t":"T","s":"b","x":5.14,"y":7.2e-7},{"p":3,"t":"T","s":"b","x":5.52,"y":5.9e-7},{"p":3,"t":"T","s":"b","x":5.9,"y":4.7e-7},{"p":3,"t":"T","s":"b","x":6.24,"y":3.8e-7},{"p":3,"t":"T","s":"b","x":6.71,"y":2.45e-7},
{"p":3,"t":"T","s":"b","x":7.9,"xl":7.0,"xh":8.9,"y":9.5e-8,"yl":8.2e-8,"yh":1.1e-7},
{"p":3,"t":"T","s":"b","x":9.43,"xl":8.7,"xh":10.3,"y":2.3e-8,"yl":2.0e-8,"yh":2.7e-8},
{"p":3,"t":"T","s":"b","x":11.0,"xl":10.3,"xh":11.7,"y":1.86e-8,"yl":1.6e-8,"yh":2.1e-8},
{"p":3,"t":"T","s":"b","x":12.4,"xl":11.7,"xh":13.1,"y":6.3e-9,"yl":5.3e-9,"yh":7.5e-9},
{"p":3,"t":"T","s":"b","x":13.9,"xl":13.1,"xh":14.6,"y":1.48e-9,"yl":1.0e-10,"yh":3.2e-9},
{"p":3,"t":"T","s":"b","x":15.3,"xl":14.6,"xh":16.2,"y":2.0e-9,"yl":1.4e-9,"yh":3.2e-9},
{"p":3,"t":"T","s":"b","x":17.2,"xl":16.2,"xh":18.2,"y":9.5e-10,"yl":1e-15,"yh":2.5e-9},
{"p":3,"t":"T","s":"b","x":20.3,"xl":18.4,"xh":22,"y":1.26e-12,"yl":1e-15,"yh":3.2e-11},

{"p":3,"t":"R","s":"k","x":1.7,"xl":1.48,"xh":1.92,"y":0.62},{"p":3,"t":"R","s":"k","x":2.2,"xl":1.98,"xh":2.42,"y":0.9},{"p":3,"t":"R","s":"k","x":2.7,"xl":2.48,"xh":2.92,"y":0.9},{"p":3,"t":"R","s":"k","x":3.1,"xl":2.88,"xh":3.32,"y":0.95},{"p":3,"t":"R","s":"k","x":3.6,"xl":3.38,"xh":3.82,"y":0.95},{"p":3,"t":"R","s":"k","x":4.1,"xl":3.88,"xh":4.32,"y":1.18},{"p":3,"t":"R","s":"k","x":4.6,"xl":4.38,"xh":4.82,"y":0.72},{"p":3,"t":"R","s":"k","x":5.1,"xl":4.88,"xh":5.32,"y":1.08},{"p":3,"t":"R","s":"k","x":5.6,"xl":5.38,"xh":5.82,"y":1.18},{"p":3,"t":"R","s":"k","x":6.1,"xl":5.88,"xh":6.32,"y":0.95},{"p":3,"t":"R","s":"k","x":6.6,"xl":6.38,"xh":6.82,"y":1.05},{"p":3,"t":"R","s":"k","x":7.1,"xl":6.88,"xh":7.32,"y":0.72},
{"p":3,"t":"R","s":"k","x":7.6,"xl":7.38,"xh":7.82,"y":1.1,"yl":1.0,"yh":1.2},{"p":3,"t":"R","s":"k","x":8.1,"xl":7.88,"xh":8.32,"y":1.28,"yl":1.18,"yh":1.38},{"p":3,"t":"R","s":"k","x":8.6,"xl":8.38,"xh":8.82,"y":0.65,"yl":0.6,"yh":0.7},{"p":3,"t":"R","s":"k","x":9.1,"xl":8.88,"xh":9.32,"y":1.2,"yl":1.1,"yh":1.3},
{"p":3,"t":"R","s":"k","x":9.66,"xl":9.32,"xh":10,"y":0.92,"yl":0.88,"yh":0.96},{"p":3,"t":"R","s":"k","x":11,"xl":10,"xh":12,"y":0.92,"yl":0.9,"yh":0.94},{"p":3,"t":"R","s":"k","x":13,"xl":12,"xh":14,"y":0.95,"yl":0.92,"yh":0.98},{"p":3,"t":"R","s":"k","x":15,"xl":14,"xh":16,"y":1.05,"yl":0.65,"yh":1.45},{"p":3,"t":"R","s":"k","x":17,"xl":16,"xh":18,"y":1.72,"yl":1.6,"yh":2.1},{"p":3,"t":"R","s":"k","x":19,"xl":18,"xh":20,"y":1.8,"yl":1.7,"yh":2.1},
{"p":3,"t":"R","s":"r","x":1.7,"xl":1.48,"xh":1.92,"y":1},{"p":3,"t":"R","s":"r","x":2.2,"xl":1.98,"xh":2.42,"y":1},{"p":3,"t":"R","s":"r","x":2.7,"xl":2.48,"xh":2.92,"y":1},{"p":3,"t":"R","s":"r","x":3.1,"xl":2.88,"xh":3.32,"y":1},{"p":3,"t":"R","s":"r","x":3.6,"xl":3.38,"xh":3.82,"y":1},{"p":3,"t":"R","s":"r","x":4.1,"xl":3.88,"xh":4.32,"y":1},{"p":3,"t":"R","s":"r","x":4.6,"xl":4.38,"xh":4.82,"y":1},{"p":3,"t":"R","s":"r","x":5.1,"xl":4.88,"xh":5.32,"y":1},{"p":3,"t":"R","s":"r","x":5.6,"xl":5.38,"xh":5.82,"y":1},{"p":3,"t":"R","s":"r","x":6.1,"xl":5.88,"xh":6.32,"y":1},
{"p":3,"t":"R","s":"r","x":6.6,"xl":6.38,"xh":6.82,"y":1,"yl":0.98,"yh":1.02},{"p":3,"t":"R","s":"r","x":7.1,"xl":6.88,"xh":7.32,"y":1,"yl":0.97,"yh":1.03},{"p":3,"t":"R","s":"r","x":7.6,"xl":7.38,"xh":7.82,"y":1,"yl":0.96,"yh":1.04},{"p":3,"t":"R","s":"r","x":8.1,"xl":7.88,"xh":8.32,"y":1,"yl":0.95,"yh":1.05},{"p":3,"t":"R","s":"r","x":8.6,"xl":8.38,"xh":8.82,"y":1,"yl":0.94,"yh":1.06},{"p":3,"t":"R","s":"r","x":9.1,"xl":8.88,"xh":9.32,"y":1,"yl":0.93,"yh":1.07},
{"p":3,"t":"R","s":"r","x":9.66,"xl":9.32,"xh":10,"y":1,"yl":0.92,"yh":1.08},{"p":3,"t":"R","s":"r","x":11,"xl":10,"xh":12,"y":1,"yl":0.8,"yh":1.2},{"p":3,"t":"R","s":"r","x":13,"xl":12,"xh":14,"y":1,"yl":0.55,"yh":1.25},{"p":3,"t":"R","s":"r","x":15,"xl":14,"xh":16,"y":1,"yl":0.6,"yh":1.35},{"p":3,"t":"R","s":"r","x":17,"xl":16,"xh":18,"y":1,"yl":0.2,"yh":1.8},{"p":3,"t":"R","s":"r","x":19,"xl":18,"xh":20,"y":1,"yl":-0.1,"yh":2.1},{"p":3,"t":"R","s":"r","x":21,"xl":20,"xh":22,"y":1,"yl":0.6,"yh":1.4},
{"p":3,"t":"R","s":"b","x":1.7,"xl":1.48,"xh":1.92,"y":1.08},{"p":3,"t":"R","s":"b","x":2.2,"xl":1.98,"xh":2.42,"y":1.23},{"p":3,"t":"R","s":"b","x":2.7,"xl":2.48,"xh":2.92,"y":1.08},{"p":3,"t":"R","s":"b","x":3.1,"xl":2.88,"xh":3.32,"y":1.05},{"p":3,"t":"R","s":"b","x":3.6,"xl":3.38,"xh":3.82,"y":0.9},{"p":3,"t":"R","s":"b","x":4.1,"xl":3.88,"xh":4.32,"y":0.92},{"p":3,"t":"R","s":"b","x":4.6,"xl":4.38,"xh":4.82,"y":1.08},{"p":3,"t":"R","s":"b","x":5.1,"xl":4.88,"xh":5.32,"y":1.08},{"p":3,"t":"R","s":"b","x":5.6,"xl":5.38,"xh":5.82,"y":0.8},{"p":3,"t":"R","s":"b","x":6.1,"xl":5.88,"xh":6.32,"y":0.77},{"p":3,"t":"R","s":"b","x":6.6,"xl":6.38,"xh":6.82,"y":1.0},
{"p":3,"t":"R","s":"b","x":7.1,"xl":6.88,"xh":7.32,"y":1.2,"yl":1.1,"yh":1.3},{"p":3,"t":"R","s":"b","x":7.6,"xl":7.38,"xh":7.82,"y":1.25,"yl":1.15,"yh":1.35},{"p":3,"t":"R","s":"b","x":8.1,"xl":7.88,"xh":8.32,"y":1.4,"yl":1.3,"yh":1.5},{"p":3,"t":"R","s":"b","x":8.6,"xl":8.38,"xh":8.82,"y":0.88,"yl":0.8,"yh":0.96},{"p":3,"t":"R","s":"b","x":9.1,"xl":8.88,"xh":9.32,"y":0.92,"yl":0.84,"yh":1.0},
{"p":3,"t":"R","s":"b","x":9.66,"xl":9.32,"xh":10,"y":0.95,"yl":0.85,"yh":1.05},{"p":3,"t":"R","s":"b","x":11,"xl":10,"xh":12,"y":0.62,"yl":0.58,"yh":0.66},{"p":3,"t":"R","s":"b","x":13,"xl":12,"xh":14,"y":1.8,"yl":1.0,"yh":2.1},{"p":3,"t":"R","s":"b","x":19,"xl":18,"xh":20,"y":1.0,"yl":-0.1,"yh":2.1},{"p":3,"t":"R","s":"b","x":21,"xl":20,"xh":22,"y":1.72,"yl":-0.1,"yh":2.1},

{"p":4,"t":"T","s":"k","x":1.22,"y":4.5e-4},{"p":4,"t":"T","s":"k","x":1.61,"y":5.0e-4},{"p":4,"t":"T","s":"k","x":1.95,"y":2.1e-4},{"p":4,"t":"T","s":"k","x":2.45,"y":4.5e-5},{"p":4,"t":"T","s":"k","x":2.93,"y":2.0e-5},{"p":4,"t":"T","s":"k","x":3.42,"y":9.2e-6},{"p":4,"t":"T","s":"k","x":3.81,"y":4.4e-6},{"p":4,"t":"T","s":"k","x":4.25,"y":2.6e-6},{"p":4,"t":"T","s":"k","x":4.65,"y":1.4e-6},{"p":4,"t":"T","s":"k","x":5.13,"y":6.0e-7},{"p":4,"t":"T","s":"k","x":5.53,"y":4.0e-7},{"p":4,"t":"T","s":"k","x":6.0,"y":3.0e-7},{"p":4,"t":"T","s":"k","x":6.5,"y":1.7e-7},{"p":4,"t":"T","s":"k","x":7.08,"y":9.0e-8},
{"p":4,"t":"T","s":"k","x":8.06,"xl":7.3,"xh":9.0,"y":4.6e-8,"yl":4.2e-8,"yh":5.0e-8},
{"p":4,"t":"T","s":"k","x":9.63,"xl":8.9,"xh":10.5,"y":1.2e-8,"yl":1.1e-8,"yh":1.3e-8},
{"p":4,"t":"T","s":"k","x":11.1,"xl":10.5,"xh":12.1,"y":4.5e-9,"yl":4.0e-9,"yh":5.0e-9},
{"p":4,"t":"T","s":"k","x":12.6,"xl":12.0,"xh":13.5,"y":1.35e-9,"yl":1.2e-9,"yh":1.5e-9},
{"p":4,"t":"T","s":"k","x":14.2,"xl":13.5,"xh":14.9,"y":7.1e-10,"yl":5.5e-10,"yh":9.0e-10},
{"p":4,"t":"T","s":"k","x":15.9,"xl":15.1,"xh":16.6,"y":4.5e-10,"yl":3.2e-10,"yh":6.0e-10},
{"p":4,"t":"T","s":"k","x":17.6,"xl":16.6,"xh":18.6,"y":1.3e-10,"yl":1.0e-10,"yh":1.7e-10},
{"p":4,"t":"T","s":"k","x":20.5,"xl":18.7,"xh":22,"y":2.8e-11,"yl":2.0e-11,"yh":3.6e-11},
{"p":4,"t":"T","s":"r","x":1.22,"y":5.4e-4},{"p":4,"t":"T","s":"r","x":1.61,"y":6.0e-4},{"p":4,"t":"T","s":"r","x":1.95,"y":2.3e-4},{"p":4,"t":"T","s":"r","x":2.45,"y":4.9e-5},{"p":4,"t":"T","s":"r","x":2.93,"y":2.2e-5},{"p":4,"t":"T","s":"r","x":3.42,"y":1.0e-5},{"p":4,"t":"T","s":"r","x":3.81,"y":4.8e-6},{"p":4,"t":"T","s":"r","x":4.25,"y":3.0e-6},{"p":4,"t":"T","s":"r","x":4.65,"y":1.7e-6},{"p":4,"t":"T","s":"r","x":5.13,"y":6.8e-7},{"p":4,"t":"T","s":"r","x":5.53,"y":4.2e-7},{"p":4,"t":"T","s":"r","x":6.0,"y":3.1e-7},{"p":4,"t":"T","s":"r","x":6.5,"y":1.9e-7},{"p":4,"t":"T","s":"r","x":7.08,"y":1.05e-7},
{"p":4,"t":"T","s":"r","x":8.06,"xl":7.3,"xh":9.0,"y":5.2e-8,"yl":4.7e-8,"yh":5.7e-8},
{"p":4,"t":"T","s":"r","x":9.63,"xl":8.9,"xh":10.5,"y":1.3e-8,"yl":1.15e-8,"yh":1.45e-8},
{"p":4,"t":"T","s":"r","x":11.1,"xl":10.5,"xh":12.1,"y":4.8e-9,"yl":4.3e-9,"yh":5.3e-9},
{"p":4,"t":"T","s":"r","x":12.6,"xl":12.0,"xh":13.5,"y":1.45e-9,"yl":1.3e-9,"yh":1.6e-9},
{"p":4,"t":"T","s":"r","x":14.2,"xl":13.5,"xh":14.9,"y":6.8e-10,"yl":5.5e-10,"yh":8.2e-10},
{"p":4,"t":"T","s":"r","x":15.9,"xl":15.1,"xh":16.6,"y":4.0e-10,"yl":3.0e-10,"yh":5.0e-10},
{"p":4,"t":"T","s":"r","x":17.6,"xl":16.6,"xh":18.6,"y":1.38e-10,"yl":2.5e-11,"yh":2.2e-10},
{"p":4,"t":"T","s":"r","x":20.5,"xl":18.7,"xh":22,"y":3.2e-11,"yl":1.0e-11,"yh":8e-11},
{"p":4,"t":"T","s":"b","x":1.22,"y":5.6e-4},{"p":4,"t":"T","s":"b","x":1.61,"y":6.8e-4},{"p":4,"t":"T","s":"b","x":1.95,"y":2.4e-4},{"p":4,"t":"T","s":"b","x":2.45,"y":5.0e-5},{"p":4,"t":"T","s":"b","x":2.93,"y":2.24e-5},{"p":4,"t":"T","s":"b","x":3.42,"y":1.02e-5},{"p":4,"t":"T","s":"b","x":3.81,"y":4.9e-6},{"p":4,"t":"T","s":"b","x":4.25,"y":2.8e-6},{"p":4,"t":"T","s":"b","x":4.65,"y":1.58e-6},{"p":4,"t":"T","s":"b","x":5.13,"y":6.8e-7},{"p":4,"t":"T","s":"b","x":5.53,"y":4.4e-7},{"p":4,"t":"T","s":"b","x":6.0,"y":3.2e-7},{"p":4,"t":"T","s":"b","x":6.5,"y":1.86e-7},{"p":4,"t":"T","s":"b","x":7.08,"y":1.0e-7},
{"p":4,"t":"T","s":"b","x":8.06,"xl":7.3,"xh":9.0,"y":5.1e-8,"yl":4.6e-8,"yh":5.6e-8},
{"p":4,"t":"T","s":"b","x":9.63,"xl":8.9,"xh":10.5,"y":1.3e-8,"yl":1.15e-8,"yh":1.45e-8},
{"p":4,"t":"T","s":"b","x":11.1,"xl":10.5,"xh":12.1,"y":4.8e-9,"yl":4.3e-9,"yh":5.3e-9},
{"p":4,"t":"T","s":"b","x":12.6,"xl":12.0,"xh":13.5,"y":1.48e-9,"yl":1.3e-9,"yh":1.65e-9},
{"p":4,"t":"T","s":"b","x":14.2,"xl":13.5,"xh":14.9,"y":6.8e-10,"yl":4.5e-10,"yh":9e-10},
{"p":4,"t":"T","s":"b","x":15.9,"xl":15.1,"xh":16.6,"y":3.2e-10,"yl":1.8e-10,"yh":5.0e-10},
{"p":4,"t":"T","s":"b","x":17.6,"xl":16.6,"xh":18.6,"y":1.38e-10,"yl":7e-11,"yh":2.0e-10},
{"p":4,"t":"T","s":"b","x":20.5,"xl":18.7,"xh":22,"y":2.5e-11,"yl":1e-15,"yh":6e-11},

{"p":4,"t":"R","s":"k","x":1.7,"xl":1.48,"xh":1.92,"y":0.81},{"p":4,"t":"R","s":"k","x":2.2,"xl":1.98,"xh":2.42,"y":0.73},{"p":4,"t":"R","s":"k","x":2.7,"xl":2.48,"xh":2.92,"y":0.85},{"p":4,"t":"R","s":"k","x":3.2,"xl":2.98,"xh":3.42,"y":0.89},{"p":4,"t":"R","s":"k","x":3.7,"xl":3.48,"xh":3.92,"y":0.93},{"p":4,"t":"R","s":"k","x":4.2,"xl":3.98,"xh":4.42,"y":0.96},{"p":4,"t":"R","s":"k","x":4.7,"xl":4.48,"xh":4.92,"y":0.95},{"p":4,"t":"R","s":"k","x":5.2,"xl":4.98,"xh":5.42,"y":0.93},{"p":4,"t":"R","s":"k","x":5.7,"xl":5.48,"xh":5.92,"y":0.91},{"p":4,"t":"R","s":"k","x":6.2,"xl":5.98,"xh":6.42,"y":0.89},{"p":4,"t":"R","s":"k","x":6.7,"xl":6.48,"xh":6.92,"y":0.93},{"p":4,"t":"R","s":"k","x":7.2,"xl":6.98,"xh":7.42,"y":0.89},{"p":4,"t":"R","s":"k","x":7.7,"xl":7.48,"xh":7.92,"y":0.85},{"p":4,"t":"R","s":"k","x":8.2,"xl":7.98,"xh":8.42,"y":0.81},{"p":4,"t":"R","s":"k","x":8.7,"xl":8.48,"xh":8.92,"y":0.81},{"p":4,"t":"R","s":"k","x":9.2,"xl":8.98,"xh":9.42,"y":0.86},
{"p":4,"t":"R","s":"k","x":9.71,"xl":9.42,"xh":10,"y":0.86},{"p":4,"t":"R","s":"k","x":11,"xl":10,"xh":12,"y":0.86,"yl":0.83,"yh":0.89},{"p":4,"t":"R","s":"k","x":13,"xl":12,"xh":14,"y":0.89,"yl":0.85,"yh":0.93},{"p":4,"t":"R","s":"k","x":15,"xl":14,"xh":16,"y":0.89,"yl":0.84,"yh":0.94},{"p":4,"t":"R","s":"k","x":17,"xl":16,"xh":18,"y":1.16,"yl":1.1,"yh":1.22},{"p":4,"t":"R","s":"k","x":19,"xl":18,"xh":20,"y":0.81,"yl":0.7,"yh":0.92},{"p":4,"t":"R","s":"k","x":21,"xl":20,"xh":22,"y":1.36,"yl":1.25,"yh":1.5},
{"p":4,"t":"R","s":"r","x":1.7,"xl":1.48,"xh":1.92,"y":1},{"p":4,"t":"R","s":"r","x":2.2,"xl":1.98,"xh":2.42,"y":1},{"p":4,"t":"R","s":"r","x":2.7,"xl":2.48,"xh":2.92,"y":1},{"p":4,"t":"R","s":"r","x":3.2,"xl":2.98,"xh":3.42,"y":1},{"p":4,"t":"R","s":"r","x":3.7,"xl":3.48,"xh":3.92,"y":1},{"p":4,"t":"R","s":"r","x":4.2,"xl":3.98,"xh":4.42,"y":1},{"p":4,"t":"R","s":"r","x":4.7,"xl":4.48,"xh":4.92,"y":1},{"p":4,"t":"R","s":"r","x":5.2,"xl":4.98,"xh":5.42,"y":1},{"p":4,"t":"R","s":"r","x":5.7,"xl":5.48,"xh":5.92,"y":1},{"p":4,"t":"R","s":"r","x":6.2,"xl":5.98,"xh":6.42,"y":1},{"p":4,"t":"R","s":"r","x":6.7,"xl":6.48,"xh":6.92,"y":1},
{"p":4,"t":"R","s":"r","x":7.2,"xl":6.98,"xh":7.42,"y":1,"yl":0.99,"yh":1.01},{"p":4,"t":"R","s":"r","x":7.7,"xl":7.48,"xh":7.92,"y":1,"yl":0.985,"yh":1.015},{"p":4,"t":"R","s":"r","x":8.2,"xl":7.98,"xh":8.42,"y":1,"yl":0.98,"yh":1.02},{"p":4,"t":"R","s":"r","x":8.7,"xl":8.48,"xh":8.92,"y":1,"yl":0.975,"yh":1.025},{"p":4,"t":"R","s":"r","x":9.2,"xl":8.98,"xh":9.42,"y":1,"yl":0.97,"yh":1.03},
{"p":4,"t":"R","s":"r","x":9.71,"xl":9.42,"xh":10,"y":1,"yl":0.96,"yh":1.04},{"p":4,"t":"R","s":"r","x":11,"xl":10,"xh":12,"y":1,"yl":0.95,"yh":1.05},{"p":4,"t":"R","s":"r","x":13,"xl":12,"xh":14,"y":1,"yl":0.8,"yh":1.2},{"p":4,"t":"R","s":"r","x":15,"xl":14,"xh":16,"y":1,"yl":0.7,"yh":1.2},{"p":4,"t":"R","s":"r","x":17,"xl":16,"xh":18,"y":1,"yl":0.65,"yh":1.4},{"p":4,"t":"R","s":"r","x":19,"xl":18,"xh":20,"y":1,"yl":0.4,"yh":1.3},{"p":4,"t":"R","s":"r","x":21,"xl":20,"xh":22,"y":1,"yl":0.12,"yh":1.6},
{"p":4,"t":"R","s":"b","x":1.7,"xl":1.48,"xh":1.92,"y":1.23},{"p":4,"t":"R","s":"b","x":2.2,"xl":1.98,"xh":2.42,"y":1.18},{"p":4,"t":"R","s":"b","x":2.7,"xl":2.48,"xh":2.92,"y":1.13},{"p":4,"t":"R","s":"b","x":3.2,"xl":2.98,"xh":3.42,"y":1.08},{"p":4,"t":"R","s":"b","x":3.7,"xl":3.48,"xh":3.92,"y":1.03},{"p":4,"t":"R","s":"b","x":4.2,"xl":3.98,"xh":4.42,"y":1.09},{"p":4,"t":"R","s":"b","x":4.7,"xl":4.48,"xh":4.92,"y":1.03},{"p":4,"t":"R","s":"b","x":5.2,"xl":4.98,"xh":5.42,"y":0.93},{"p":4,"t":"R","s":"b","x":5.7,"xl":5.48,"xh":5.92,"y":0.99},{"p":4,"t":"R","s":"b","x":6.2,"xl":5.98,"xh":6.42,"y":1.21},{"p":4,"t":"R","s":"b","x":6.7,"xl":6.48,"xh":6.92,"y":1.03},
{"p":4,"t":"R","s":"b","x":7.2,"xl":6.98,"xh":7.42,"y":0.69,"yl":0.65,"yh":0.73},{"p":4,"t":"R","s":"b","x":7.7,"xl":7.48,"xh":7.92,"y":1.06,"yl":1.01,"yh":1.11},{"p":4,"t":"R","s":"b","x":8.2,"xl":7.98,"xh":8.42,"y":1.06,"yl":1.01,"yh":1.11},{"p":4,"t":"R","s":"b","x":8.7,"xl":8.48,"xh":8.92,"y":0.99,"yl":0.94,"yh":1.04},{"p":4,"t":"R","s":"b","x":9.2,"xl":8.98,"xh":9.42,"y":0.81,"yl":0.76,"yh":0.86},
{"p":4,"t":"R","s":"b","x":9.71,"xl":9.42,"xh":10,"y":0.85,"yl":0.8,"yh":0.9},{"p":4,"t":"R","s":"b","x":11,"xl":10,"xh":12,"y":1.03,"yl":0.98,"yh":1.08},{"p":4,"t":"R","s":"b","x":13,"xl":12,"xh":14,"y":1.13,"yl":1.05,"yh":1.2},{"p":4,"t":"R","s":"b","x":15,"xl":14,"xh":16,"y":0.89,"yl":0.7,"yh":1.1},{"p":4,"t":"R","s":"b","x":17,"xl":16,"xh":18,"y":1.16,"yl":0.5,"yh":1.5},{"p":4,"t":"R","s":"b","x":19,"xl":18,"xh":20,"y":1.09,"yl":0.36,"yh":1.65},{"p":4,"t":"R","s":"b","x":21,"xl":20,"xh":22,"y":0.91,"yl":0.27,"yh":1.35}
]},
"spacing": 0,
"bounds": "full",
"hconcat": [
{"spacing": 0, "bounds": "flush", "vconcat": [
  {"width": 158, "height": 278, "data": {"name": "d"},
   "encoding": {
     "x": {"field": "x", "type": "quantitative", "scale": {"domain": [0, 22], "nice": false, "zero": false}, "axis": {"title": null, "labels": false, "values": [1,2,3,4,5,6,7,8,9,10,11,12,13,14,15,16,17,18,19,20,21], "tickSize": {"condition": {"test": "datum.value % 4 == 0", "value": -6}, "value": -3}, "minExtent": 0, "maxExtent": 0}},
     "y": {"field": "y", "type": "quantitative", "scale": {"type": "log", "domain": [1e-15, 10], "nice": false}, "axis": {"title": "1/N_evt * dN/dp_T", "titleFontSize": 12.5, "titlePadding": 4, "values": [10,1,0.1,0.01,0.001,1e-4,1e-5,1e-6,1e-7,1e-8,1e-9,1e-10,1e-11,1e-12,1e-13,1e-14], "labelExpr": "(1 - round(log(datum.value)/LN10)) % 3 == 0 ? (datum.value > 5 ? '10' : '10' + ['','⁻¹','⁻²','⁻³','⁻⁴','⁻⁵','⁻⁶','⁻⁷','⁻⁸','⁻⁹','⁻¹⁰','⁻¹¹','⁻¹²','⁻¹³','⁻¹⁴','⁻¹⁵'][-round(log(datum.value)/LN10)]) : ''", "labelFontSize": 9, "labelPadding": 2, "tickSize": {"condition": {"test": "(1 - round(log(datum.value)/LN10)) % 3 == 0", "value": -7}, "value": -4}}},
     "color": {"field": "s", "type": "nominal", "scale": {"domain": ["k","r","b"], "range": ["#000000","#ff0000","#0000ff"]}, "legend": null}
   },
   "layer": [
     {"transform": [{"filter": "datum.p==1 && datum.t=='T' && isValid(datum.xl)"}], "mark": {"type": "rule", "strokeWidth": 2, "clip": true}, "encoding": {"x": {"field": "xl", "type": "quantitative", "scale": {"domain": [0, 22], "nice": false, "zero": false}}, "x2": {"field": "xh"}}},
     {"transform": [{"filter": "datum.p==1 && datum.t=='T' && isValid(datum.yl)"}], "mark": {"type": "rule", "strokeWidth": 2, "clip": true}, "encoding": {"y": {"field": "yl", "type": "quantitative", "scale": {"type": "log", "domain": [1e-15, 10], "nice": false}}, "y2": {"field": "yh"}}},
     {"transform": [{"filter": "datum.p==1 && datum.t=='T' && !isValid(datum.xl)"}], "mark": {"type": "square", "size": 13, "opacity": 1, "filled": true}},
     {"transform": [{"filter": "datum.p==1 && datum.t=='L'"}], "mark": {"type": "text", "font": "Liberation Sans", "fontWeight": "bold", "fontSize": 14}, "encoding": {"text": {"field": "txt"}, "color": {"value": "black"}}}
   ]},
  {"width": 158, "height": 67, "data": {"name": "d"},
   "encoding": {
     "x": {"field": "xl", "type": "quantitative", "scale": {"domain": [0, 22], "nice": false, "zero": false}, "axis": {"title": null, "values": [0,1,2,3,4,5,6,7,8,9,10,11,12,13,14,15,16,17,18,19,20,21,22], "labelExpr": "datum.value % 2 == 0 ? datum.label : ''", "tickSize": -3, "labelFontSize": 5.5, "labelPadding": 4}},
     "y": {"field": "y", "type": "quantitative", "scale": {"domain": [0.6, 1.25], "nice": false, "zero": false}, "axis": {"title": null, "values": [0.6,0.7,0.8,0.9,1,1.1,1.2], "labelExpr": "datum.value == 1 ? '1' : format(datum.value, '.1f')", "grid": true, "gridDash": [1.3, 5.5], "gridColor": "black", "gridWidth": 1.3, "gridOpacity": 1, "tickSize": -3, "labelFontSize": 5.5, "labelPadding": 2}},
     "color": {"field": "s", "type": "nominal", "scale": {"domain": ["k","r","b"], "range": ["#000000","#ff0000","#0000ff"]}, "legend": null}
   },
   "layer": [
     {"transform": [{"filter": "datum.p==1 && datum.t=='R'"}], "mark": {"type": "rule", "strokeWidth": 2, "clip": true}, "encoding": {"x2": {"field": "xh"}}},
     {"transform": [{"filter": "datum.p==1 && datum.t=='R' && isValid(datum.yl)"}], "mark": {"type": "rule", "strokeWidth": 2, "clip": true}, "encoding": {"x": {"field": "x", "type": "quantitative", "scale": {"domain": [0, 22], "nice": false, "zero": false}}, "y": {"field": "yl", "type": "quantitative", "scale": {"domain": [0.6, 1.25], "nice": false, "zero": false}}, "y2": {"field": "yh"}}}
   ]}
]},
{"width": 21, "height": 10, "view": {"stroke": null}, "data": {"values": []}, "mark": "point", "encoding": {}},
{"spacing": 0, "bounds": "flush", "vconcat": [
  {"width": 158, "height": 278, "data": {"name": "d"},
   "encoding": {
     "x": {"field": "x", "type": "quantitative", "scale": {"domain": [0, 22], "nice": false, "zero": false}, "axis": {"title": null, "labels": false, "values": [1,2,3,4,5,6,7,8,9,10,11,12,13,14,15,16,17,18,19,20,21], "tickSize": {"condition": {"test": "datum.value % 4 == 0", "value": -6}, "value": -3}, "minExtent": 0, "maxExtent": 0}},
     "y": {"field": "y", "type": "quantitative", "scale": {"type": "log", "domain": [1e-15, 10], "nice": false}, "axis": {"title": "1/N_evt * dN/dp_T", "titleFontSize": 12.5, "titlePadding": 4, "values": [10,1,0.1,0.01,0.001,1e-4,1e-5,1e-6,1e-7,1e-8,1e-9,1e-10,1e-11,1e-12,1e-13,1e-14], "labelExpr": "(1 - round(log(datum.value)/LN10)) % 3 == 0 ? (datum.value > 5 ? '10' : '10' + ['','⁻¹','⁻²','⁻³','⁻⁴','⁻⁵','⁻⁶','⁻⁷','⁻⁸','⁻⁹','⁻¹⁰','⁻¹¹','⁻¹²','⁻¹³','⁻¹⁴','⁻¹⁵'][-round(log(datum.value)/LN10)]) : ''", "labelFontSize": 9, "labelPadding": 2, "tickSize": {"condition": {"test": "(1 - round(log(datum.value)/LN10)) % 3 == 0", "value": -7}, "value": -4}}},
     "color": {"field": "s", "type": "nominal", "scale": {"domain": ["k","r","b"], "range": ["#000000","#ff0000","#0000ff"]}, "legend": null}
   },
   "layer": [
     {"transform": [{"filter": "datum.p==2 && datum.t=='T' && isValid(datum.xl)"}], "mark": {"type": "rule", "strokeWidth": 2, "clip": true}, "encoding": {"x": {"field": "xl", "type": "quantitative", "scale": {"domain": [0, 22], "nice": false, "zero": false}}, "x2": {"field": "xh"}}},
     {"transform": [{"filter": "datum.p==2 && datum.t=='T' && isValid(datum.yl)"}], "mark": {"type": "rule", "strokeWidth": 2, "clip": true}, "encoding": {"y": {"field": "yl", "type": "quantitative", "scale": {"type": "log", "domain": [1e-15, 10], "nice": false}}, "y2": {"field": "yh"}}},
     {"transform": [{"filter": "datum.p==2 && datum.t=='T' && !isValid(datum.xl)"}], "mark": {"type": "square", "size": 13, "opacity": 1, "filled": true}},
     {"transform": [{"filter": "datum.p==2 && datum.t=='L'"}], "mark": {"type": "text", "font": "Liberation Sans", "fontWeight": "bold", "fontSize": 14}, "encoding": {"text": {"field": "txt"}, "color": {"value": "black"}}}
   ]},
  {"width": 158, "height": 67, "data": {"name": "d"},
   "encoding": {
     "x": {"field": "xl", "type": "quantitative", "scale": {"domain": [0, 22], "nice": false, "zero": false}, "axis": {"title": null, "values": [0,1,2,3,4,5,6,7,8,9,10,11,12,13,14,15,16,17,18,19,20,21,22], "labelExpr": "datum.value % 2 == 0 ? datum.label : ''", "tickSize": -3, "labelFontSize": 5.5, "labelPadding": 4}},
     "y": {"field": "y", "type": "quantitative", "scale": {"domain": [0.6, 1.25], "nice": false, "zero": false}, "axis": {"title": null, "values": [0.6,0.7,0.8,0.9,1,1.1,1.2], "labelExpr": "datum.value == 1 ? '1' : format(datum.value, '.1f')", "grid": true, "gridDash": [1.3, 5.5], "gridColor": "black", "gridWidth": 1.3, "gridOpacity": 1, "tickSize": -3, "labelFontSize": 5.5, "labelPadding": 2}},
     "color": {"field": "s", "type": "nominal", "scale": {"domain": ["k","r","b"], "range": ["#000000","#ff0000","#0000ff"]}, "legend": null}
   },
   "layer": [
     {"transform": [{"filter": "datum.p==2 && datum.t=='R'"}], "mark": {"type": "rule", "strokeWidth": 2, "clip": true}, "encoding": {"x2": {"field": "xh"}}},
     {"transform": [{"filter": "datum.p==2 && datum.t=='R' && isValid(datum.yl)"}], "mark": {"type": "rule", "strokeWidth": 2, "clip": true}, "encoding": {"x": {"field": "x", "type": "quantitative", "scale": {"domain": [0, 22], "nice": false, "zero": false}}, "y": {"field": "yl", "type": "quantitative", "scale": {"domain": [0.6, 1.25], "nice": false, "zero": false}}, "y2": {"field": "yh"}}}
   ]}
]},
{"width": 105, "height": 10, "view": {"stroke": null}, "data": {"values": []}, "mark": "point", "encoding": {}},
{"spacing": 0, "bounds": "flush", "vconcat": [
  {"width": 154, "height": 285, "data": {"name": "d"},
   "encoding": {
     "x": {"field": "x", "type": "quantitative", "scale": {"domain": [0, 22], "nice": false, "zero": false}, "axis": {"title": null, "labels": false, "values": [1,2,3,4,5,6,7,8,9,10,11,12,13,14,15,16,17,18,19,20,21], "tickSize": {"condition": {"test": "datum.value % 4 == 0", "value": -6}, "value": -3}, "minExtent": 0, "maxExtent": 0}},
     "y": {"field": "y", "type": "quantitative", "scale": {"type": "log", "domain": [1e-15, 10], "nice": false}, "axis": {"title": null, "values": [2e-15,3e-15,4e-15,5e-15,6e-15,7e-15,8e-15,9e-15,1e-14,2e-14,3e-14,4e-14,5e-14,6e-14,7e-14,8e-14,9e-14,1e-13,2e-13,3e-13,4e-13,5e-13,6e-13,7e-13,8e-13,9e-13,1e-12,2e-12,3e-12,4e-12,5e-12,6e-12,7e-12,8e-12,9e-12,1e-11,2e-11,3e-11,4e-11,5e-11,6e-11,7e-11,8e-11,9e-11,1e-10,2e-10,3e-10,4e-10,5e-10,6e-10,7e-10,8e-10,9e-10,1e-9,2e-9,3e-9,4e-9,5e-9,6e-9,7e-9,8e-9,9e-9,1e-8,2e-8,3e-8,4e-8,5e-8,6e-8,7e-8,8e-8,9e-8,1e-7,2e-7,3e-7,4e-7,5e-7,6e-7,7e-7,8e-7,9e-7,1e-6,2e-6,3e-6,4e-6,5e-6,6e-6,7e-6,8e-6,9e-6,1e-5,2e-5,3e-5,4e-5,5e-5,6e-5,7e-5,8e-5,9e-5,1e-4,2e-4,3e-4,4e-4,5e-4,6e-4,7e-4,8e-4,9e-4,1e-3,2e-3,3e-3,4e-3,5e-3,6e-3,7e-3,8e-3,9e-3,0.01,0.02,0.03,0.04,0.05,0.06,0.07,0.08,0.09,0.1,0.2,0.3,0.4,0.5,0.6,0.7,0.8,0.9,1,2,3,4,5,6,7,8,9,10], "labelExpr": "abs(log(datum.value)/LN10 - round(log(datum.value)/LN10)) > 0.01 ? '' : datum.value > 5 ? '10' : datum.value > 0.5 ? '1' : '10' + ['','⁻¹','⁻²','⁻³','⁻⁴','⁻⁵','⁻⁶','⁻⁷','⁻⁸','⁻⁹','⁻¹⁰','⁻¹¹','⁻¹²','⁻¹³','⁻¹⁴','⁻¹⁵'][-round(log(datum.value)/LN10)]", "labelFontSize": 7, "labelPadding": 2, "tickSize": {"condition": {"test": "abs(log(datum.value)/LN10 - round(log(datum.value)/LN10)) > 0.01", "value": -3}, "value": -6}}},
     "color": {"field": "s", "type": "nominal", "scale": {"domain": ["k","r","b"], "range": ["#000000","#ff0000","#0000ff"]}, "legend": null}
   },
   "layer": [
     {"transform": [{"filter": "datum.p==3 && datum.t=='T' && isValid(datum.xl)"}], "mark": {"type": "rule", "strokeWidth": 2, "clip": true}, "encoding": {"x": {"field": "xl", "type": "quantitative", "scale": {"domain": [0, 22], "nice": false, "zero": false}}, "x2": {"field": "xh"}}},
     {"transform": [{"filter": "datum.p==3 && datum.t=='T' && isValid(datum.yl)"}], "mark": {"type": "rule", "strokeWidth": 2, "clip": true}, "encoding": {"y": {"field": "yl", "type": "quantitative", "scale": {"type": "log", "domain": [1e-15, 10], "nice": false}}, "y2": {"field": "yh"}}},
     {"transform": [{"filter": "datum.p==3 && datum.t=='T' && !isValid(datum.xl)"}], "mark": {"type": "square", "size": 13, "opacity": 1, "filled": true}},
     {"transform": [{"filter": "datum.p==3 && datum.t=='L'"}], "mark": {"type": "text", "font": "Liberation Sans", "fontWeight": "bold", "fontSize": 14}, "encoding": {"text": {"field": "txt"}, "color": {"value": "black"}}}
   ]},
  {"width": 154, "height": 67, "data": {"name": "d"},
   "encoding": {
     "x": {"field": "xl", "type": "quantitative", "scale": {"domain": [0, 22], "nice": false, "zero": false}, "axis": {"title": null, "values": [0,1,2,3,4,5,6,7,8,9,10,11,12,13,14,15,16,17,18,19,20,21,22], "labelExpr": "datum.value % 2 == 0 ? datum.label : ''", "tickSize": -3, "labelFontSize": 5.5, "labelPadding": 3}},
     "y": {"field": "y", "type": "quantitative", "scale": {"domain": [0, 2], "nice": false, "zero": false}, "axis": {"title": null, "values": [0.2,0.4,0.6,0.8,1,1.2,1.4,1.6,1.8], "labelExpr": "datum.value == 1 ? '1' : format(datum.value, '.1f')", "grid": true, "gridDash": [1.3, 3.6], "gridColor": "black", "gridWidth": 1.3, "gridOpacity": 1, "tickSize": -3, "labelFontSize": 5, "labelPadding": 2}},
     "color": {"field": "s", "type": "nominal", "scale": {"domain": ["k","r","b"], "range": ["#000000","#ff0000","#0000ff"]}, "legend": null}
   },
   "layer": [
     {"transform": [{"filter": "datum.p==3 && datum.t=='R'"}], "mark": {"type": "rule", "strokeWidth": 2, "clip": true}, "encoding": {"x2": {"field": "xh"}}},
     {"transform": [{"filter": "datum.p==3 && datum.t=='R' && isValid(datum.yl)"}], "mark": {"type": "rule", "strokeWidth": 2, "clip": true}, "encoding": {"x": {"field": "x", "type": "quantitative", "scale": {"domain": [0, 22], "nice": false, "zero": false}}, "y": {"field": "yl", "type": "quantitative", "scale": {"domain": [0, 2], "nice": false, "zero": false}}, "y2": {"field": "yh"}}}
   ]}
]},
{"width": 28, "height": 10, "view": {"stroke": null}, "data": {"values": []}, "mark": "point", "encoding": {}},
{"spacing": 0, "bounds": "flush", "vconcat": [
  {"width": 150, "height": 285, "data": {"name": "d"},
   "encoding": {
     "x": {"field": "x", "type": "quantitative", "scale": {"domain": [0, 22], "nice": false, "zero": false}, "axis": {"title": null, "labels": false, "values": [1,2,3,4,5,6,7,8,9,10,11,12,13,14,15,16,17,18,19,20,21], "tickSize": {"condition": {"test": "datum.value % 4 == 0", "value": -6}, "value": -3}, "minExtent": 0, "maxExtent": 0}},
     "y": {"field": "y", "type": "quantitative", "scale": {"type": "log", "domain": [1e-15, 10], "nice": false}, "axis": {"title": null, "values": [2e-15,3e-15,4e-15,5e-15,6e-15,7e-15,8e-15,9e-15,1e-14,2e-14,3e-14,4e-14,5e-14,6e-14,7e-14,8e-14,9e-14,1e-13,2e-13,3e-13,4e-13,5e-13,6e-13,7e-13,8e-13,9e-13,1e-12,2e-12,3e-12,4e-12,5e-12,6e-12,7e-12,8e-12,9e-12,1e-11,2e-11,3e-11,4e-11,5e-11,6e-11,7e-11,8e-11,9e-11,1e-10,2e-10,3e-10,4e-10,5e-10,6e-10,7e-10,8e-10,9e-10,1e-9,2e-9,3e-9,4e-9,5e-9,6e-9,7e-9,8e-9,9e-9,1e-8,2e-8,3e-8,4e-8,5e-8,6e-8,7e-8,8e-8,9e-8,1e-7,2e-7,3e-7,4e-7,5e-7,6e-7,7e-7,8e-7,9e-7,1e-6,2e-6,3e-6,4e-6,5e-6,6e-6,7e-6,8e-6,9e-6,1e-5,2e-5,3e-5,4e-5,5e-5,6e-5,7e-5,8e-5,9e-5,1e-4,2e-4,3e-4,4e-4,5e-4,6e-4,7e-4,8e-4,9e-4,1e-3,2e-3,3e-3,4e-3,5e-3,6e-3,7e-3,8e-3,9e-3,0.01,0.02,0.03,0.04,0.05,0.06,0.07,0.08,0.09,0.1,0.2,0.3,0.4,0.5,0.6,0.7,0.8,0.9,1,2,3,4,5,6,7,8,9,10], "labelExpr": "abs(log(datum.value)/LN10 - round(log(datum.value)/LN10)) > 0.01 ? '' : datum.value > 5 ? '10' : datum.value > 0.5 ? '1' : '10' + ['','⁻¹','⁻²','⁻³','⁻⁴','⁻⁵','⁻⁶','⁻⁷','⁻⁸','⁻⁹','⁻¹⁰','⁻¹¹','⁻¹²','⁻¹³','⁻¹⁴','⁻¹⁵'][-round(log(datum.value)/LN10)]", "labelFontSize": 7, "labelPadding": 2, "tickSize": {"condition": {"test": "abs(log(datum.value)/LN10 - round(log(datum.value)/LN10)) > 0.01", "value": -3}, "value": -6}}},
     "color": {"field": "s", "type": "nominal", "scale": {"domain": ["k","r","b"], "range": ["#000000","#ff0000","#0000ff"]}, "legend": null}
   },
   "layer": [
     {"transform": [{"filter": "datum.p==4 && datum.t=='T' && isValid(datum.xl)"}], "mark": {"type": "rule", "strokeWidth": 2, "clip": true}, "encoding": {"x": {"field": "xl", "type": "quantitative", "scale": {"domain": [0, 22], "nice": false, "zero": false}}, "x2": {"field": "xh"}}},
     {"transform": [{"filter": "datum.p==4 && datum.t=='T' && isValid(datum.yl)"}], "mark": {"type": "rule", "strokeWidth": 2, "clip": true}, "encoding": {"y": {"field": "yl", "type": "quantitative", "scale": {"type": "log", "domain": [1e-15, 10], "nice": false}}, "y2": {"field": "yh"}}},
     {"transform": [{"filter": "datum.p==4 && datum.t=='T' && !isValid(datum.xl)"}], "mark": {"type": "square", "size": 13, "opacity": 1, "filled": true}},
     {"transform": [{"filter": "datum.p==4 && datum.t=='L'"}], "mark": {"type": "text", "font": "Liberation Sans", "fontWeight": "bold", "fontSize": 14}, "encoding": {"text": {"field": "txt"}, "color": {"value": "black"}}}
   ]},
  {"width": 150, "height": 67, "data": {"name": "d"},
   "encoding": {
     "x": {"field": "xl", "type": "quantitative", "scale": {"domain": [0, 22], "nice": false, "zero": false}, "axis": {"title": null, "values": [0,1,2,3,4,5,6,7,8,9,10,11,12,13,14,15,16,17,18,19,20,21,22], "labelExpr": "datum.value % 2 == 0 ? datum.label : ''", "tickSize": -3, "labelFontSize": 5.5, "labelPadding": 3}},
     "y": {"field": "y", "type": "quantitative", "scale": {"domain": [0, 2], "nice": false, "zero": false}, "axis": {"title": null, "values": [0.2,0.4,0.6,0.8,1,1.2,1.4,1.6,1.8], "labelExpr": "datum.value == 1 ? '1' : format(datum.value, '.1f')", "grid": true, "gridDash": [1.3, 3.6], "gridColor": "black", "gridWidth": 1.3, "gridOpacity": 1, "tickSize": -3, "labelFontSize": 5, "labelPadding": 2}},
     "color": {"field": "s", "type": "nominal", "scale": {"domain": ["k","r","b"], "range": ["#000000","#ff0000","#0000ff"]}, "legend": null}
   },
   "layer": [
     {"transform": [{"filter": "datum.p==4 && datum.t=='R'"}], "mark": {"type": "rule", "strokeWidth": 2, "clip": true}, "encoding": {"x2": {"field": "xh"}}},
     {"transform": [{"filter": "datum.p==4 && datum.t=='R' && isValid(datum.yl)"}], "mark": {"type": "rule", "strokeWidth": 2, "clip": true}, "encoding": {"x": {"field": "x", "type": "quantitative", "scale": {"domain": [0, 22], "nice": false, "zero": false}}, "y": {"field": "yl", "type": "quantitative", "scale": {"domain": [0, 2], "nice": false, "zero": false}}, "y2": {"field": "yh"}}}
   ]}
]}
]
}
